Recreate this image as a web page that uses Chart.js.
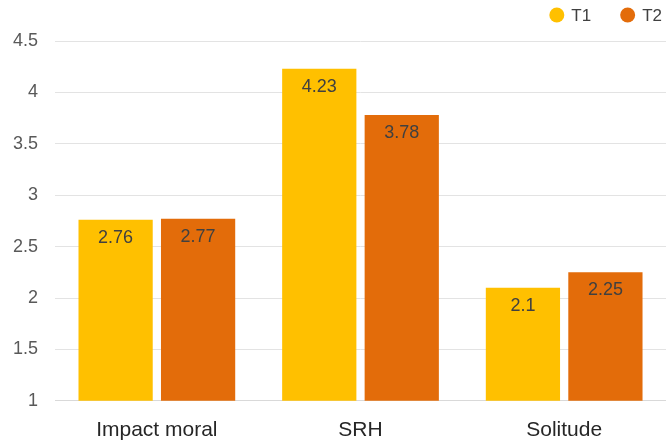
<!DOCTYPE html>
<html><head><meta charset="utf-8">
<script src="https://cdn.jsdelivr.net/npm/chart.js@4/dist/chart.umd.min.js"></script>
<style>html,body{margin:0;padding:0;background:#fff}#wrap{width:666px;height:443px}</style>
</head><body><div id="wrap"><canvas id="c"></canvas></div>
<script>
const categories = ["Impact moral", "SRH", "Solitude"];
const seriesNames = ["T1", "T2"];
const t1Values = [2.76, 4.23, 2.1];
const t2Values = [2.77, 3.78, 2.25];
const yTicks = [1, 1.5, 2, 2.5, 3, 3.5, 4, 4.5];
const colors = ["#FFC000", "#E36C0A"];
const FONT = "'Liberation Sans', Arial, sans-serif";

const labelPlugin = {
  id: 'vlabels',
  afterDatasetsDraw(chart) {
    const ctx = chart.ctx;
    ctx.save();
    ctx.font = "18px " + FONT;
    ctx.fillStyle = "#404040";
    ctx.textAlign = "center";
    ctx.textBaseline = "middle";
    chart.data.datasets.forEach((ds, i) => {
      chart.getDatasetMeta(i).data.forEach((bar, j) => {
        ctx.fillText(String(ds.data[j]), bar.x, bar.y + 18);
      });
    });
    ctx.restore();
  }
};

const legendPlugin = {
  id: 'customLegend',
  afterDraw(chart) {
    const ctx = chart.ctx;
    ctx.save();
    ctx.font = "17px " + FONT;
    ctx.textBaseline = "middle";
    ctx.textAlign = "left";
    const y = 15, r = 7.5, gapText = 7, gapItem = 29;
    const items = chart.data.datasets.map(ds => ({ text: ds.label, color: ds.backgroundColor, w: ctx.measureText(ds.label).width }));
    let total = 0;
    items.forEach((it, i) => { total += 2 * r + gapText + it.w + (i ? gapItem : 0); });
    let x = chart.width - 4 - total;
    items.forEach((it, i) => {
      if (i) x += gapItem;
      ctx.fillStyle = it.color;
      ctx.beginPath(); ctx.arc(x + r, y, r, 0, Math.PI * 2); ctx.fill();
      x += 2 * r + gapText;
      ctx.fillStyle = "#404040";
      ctx.fillText(it.text, x, y + 1);
      x += it.w;
    });
    ctx.restore();
  }
};

new Chart(document.getElementById('c'), {
  type: 'bar',
  data: {
    labels: categories,
    datasets: [
      { label: seriesNames[0], data: t1Values, backgroundColor: colors[0] },
      { label: seriesNames[1], data: t2Values, backgroundColor: colors[1] }
    ]
  },
  options: {
    responsive: true,
    maintainAspectRatio: false,
    animation: false,
    layout: { padding: { left: -4, right: 0, top: 41, bottom: -17 } },
    datasets: { bar: { categoryPercentage: 0.81, barPercentage: 0.9 } },
    plugins: {
      legend: { display: false },
      tooltip: { enabled: false }
    },
    scales: {
      x: {
        grid: { display: false, drawTicks: false },
        border: { color: '#d9d9d9' },
        ticks: { color: '#262626', font: { family: FONT, size: 21 }, padding: 17 }
      },
      y: {
        min: 1, max: 4.5,
        afterBuildTicks(axis) { axis.ticks = yTicks.map(v => ({ value: v })); },
        grid: { color: '#e3e3e3', drawTicks: false },
        border: { display: false },
        ticks: { color: '#595959', font: { family: FONT, size: 18 }, padding: 17,
          callback: v => String(v) }
      }
    }
  },
  plugins: [labelPlugin, legendPlugin]
});
</script></body></html>
